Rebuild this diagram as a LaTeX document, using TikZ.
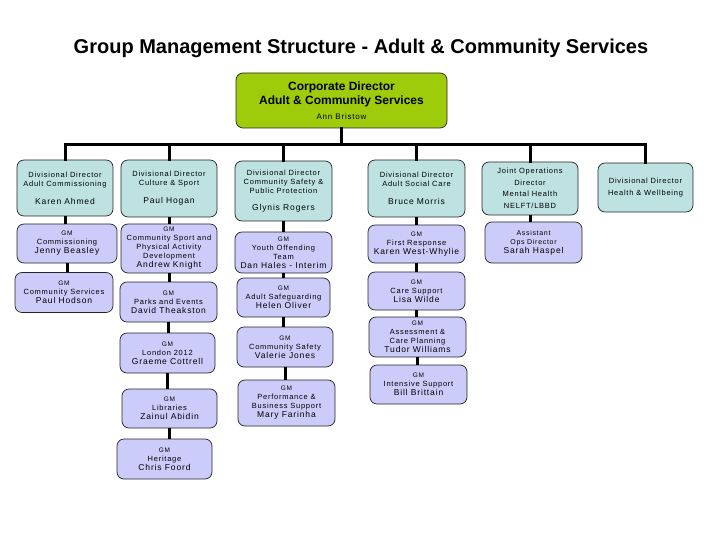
\documentclass[tikz,border=0pt]{standalone}
\usepackage{fontspec}
\setmainfont{Liberation Sans}
\newfontfamily\lsfont[LetterSpace=10]{Liberation Sans}
\definecolor{topgreen}{RGB}{158,204,10}
\definecolor{dirteal}{RGB}{190,226,226}
\definecolor{gmlav}{RGB}{204,204,250}
\newcommand\gmline{{\fontsize{6.5}{8}\selectfont GM}}
\newcommand\nm[1]{{\fontsize{8.5}{10}\selectfont #1}}
\tikzset{
  box/.style={draw=black!85, line width=0.7pt, rounded corners=7pt, align=center,
    inner sep=1pt, font=\lsfont\fontsize{7.5}{9}\selectfont},
  dirbox/.style={box, fill=dirteal},
  gmbox/.style={box, fill=gmlav},
  link/.style={line width=3pt, line cap=rect},
}
\begin{document}
\begin{tikzpicture}[x=1pt,y=-1pt]
\useasboundingbox (0,0) rectangle (720,540);
\node[font=\bfseries\fontsize{20}{22}\selectfont] (title) at (361,48) {Group Management Structure - Adult \& Community Services};

\node[box, fill=topgreen, minimum width=211pt, minimum height=55pt, font=\rmfamily\fontsize{12}{14.5}\selectfont] (top) at (341.5,100.5)
  {\textbf{Corporate Director}\\\textbf{Adult \& Community Services}\\{\lsfont\fontsize{8}{14.5}\selectfont Ann Bristow}};

% directors
\node[dirbox, minimum width=96pt, minimum height=56pt] (d1) at (65,188)
  {Divisional Director\\Adult Commissioning\\[9pt]\nm{Karen Ahmed}};
\node[dirbox, minimum width=96pt, minimum height=57pt] (d2) at (169,188.5)
  {Divisional Director\\Culture \& Sport\\[9pt]\nm{Paul Hogan}};
\node[dirbox, minimum width=97pt, minimum height=60pt] (d3) at (283.5,191)
  {Divisional Director\\Community Safety \&\\Public Protection\\[8pt]\nm{Glynis Rogers}};
\node[dirbox, minimum width=97pt, minimum height=57pt] (d4) at (416.5,188.5)
  {Divisional Director\\Adult Social Care\\[9pt]\nm{Bruce Morris}};
\node[dirbox, minimum width=96pt, minimum height=53pt, font=\lsfont\fontsize{7.5}{11.5}\selectfont] (d5) at (530,188.5)
  {Joint Operations\\Director\\Mental Health\\NELFT/LBBD};
\node[dirbox, minimum width=95pt, minimum height=49pt, font=\lsfont\fontsize{7.5}{12}\selectfont] (d6) at (645.5,187.5)
  {Divisional Director\\Health \& Wellbeing};

% column 1
\node[gmbox, minimum width=100pt, minimum height=39pt] (g11) at (67,243.5)
  {\gmline\\Commissioning\\\nm{Jenny Beasley}};
\node[gmbox, minimum width=98pt, minimum height=40pt] (g12) at (64,292.5)
  {\gmline\\Community Services\\\nm{Paul Hodson}};
% column 2
\node[gmbox, minimum width=96pt, minimum height=49pt] (g21) at (169,248.5)
  {\gmline\\Community Sport and\\Physical Activity\\Development\\\nm{Andrew Knight}};
\node[gmbox, minimum width=97pt, minimum height=40pt] (g22) at (168.5,302)
  {\gmline\\Parks and Events\\\nm{David Theakston}};
\node[gmbox, minimum width=95pt, minimum height=40pt] (g23) at (167.5,353)
  {\gmline\\London 2012\\\nm{Graeme Cottrell}};
\node[gmbox, minimum width=95pt, minimum height=39pt] (g24) at (169.5,408.5)
  {\gmline\\Libraries\\\nm{Zainul Abidin}};
\node[gmbox, minimum width=95pt, minimum height=40pt] (g25) at (164.5,459)
  {\gmline\\Heritage\\\nm{Chris Foord}};
% column 3
\node[gmbox, minimum width=97pt, minimum height=41pt] (g31) at (283.5,252.5)
  {\gmline\\Youth Offending\\Team\\\nm{Dan Hales - Interim}};
\node[gmbox, minimum width=93pt, minimum height=39pt] (g32) at (283.5,297.5)
  {\gmline\\Adult Safeguarding\\\nm{Helen Oliver}};
\node[gmbox, minimum width=96pt, minimum height=40pt] (g33) at (285,347)
  {\gmline\\Community Safety\\\nm{Valerie Jones}};
\node[gmbox, minimum width=97pt, minimum height=46pt] (g34) at (286.5,403)
  {\gmline\\Performance \&\\Business Support\\\nm{Mary Farinha}};
% column 4
\node[gmbox, minimum width=97pt, minimum height=38pt] (g41) at (416.5,244)
  {\gmline\\First Response\\\nm{Karen West-Whylie}};
\node[gmbox, minimum width=97pt, minimum height=38pt] (g42) at (416.5,291)
  {\gmline\\Care Support\\\nm{Lisa Wilde}};
\node[gmbox, minimum width=97pt, minimum height=40pt] (g43) at (417.5,337)
  {\gmline\\Assessment \&\\Care Planning\\\nm{Tudor Williams}};
\node[gmbox, minimum width=97pt, minimum height=39pt] (g44) at (418.5,384.5)
  {\gmline\\Intensive Support\\\nm{Bill Brittain}};
% column 5
\node[gmbox, minimum width=97pt, minimum height=41pt] (g51) at (533.5,242.5)
  {\fontsize{7}{8.5}\selectfont Assistant\\\fontsize{7}{8.5}\selectfont Ops Director\\\nm{Sarah Haspel}};

% connectors
\coordinate (bus) at (0,145);
\draw[link] (top.south) -- (top.south |- bus);
\draw[link] (d1.north |- bus) -- (d6.north |- bus);
\foreach \d in {d1,d2,d3,d4,d5,d6} \draw[link] (\d.north |- bus) -- (\d.north);
\foreach \a/\b in {d1/g11,g11/g12,d2/g21,g21/g22,g22/g23,g23/g24,g24/g25,
                   d3/g31,g31/g32,g32/g33,g33/g34,d4/g41,g41/g42,g42/g43,g43/g44,d5/g51}
  \draw[link, line cap=butt] (\a.south) -- (\a.south |- \b.north);
\end{tikzpicture}
\end{document}
